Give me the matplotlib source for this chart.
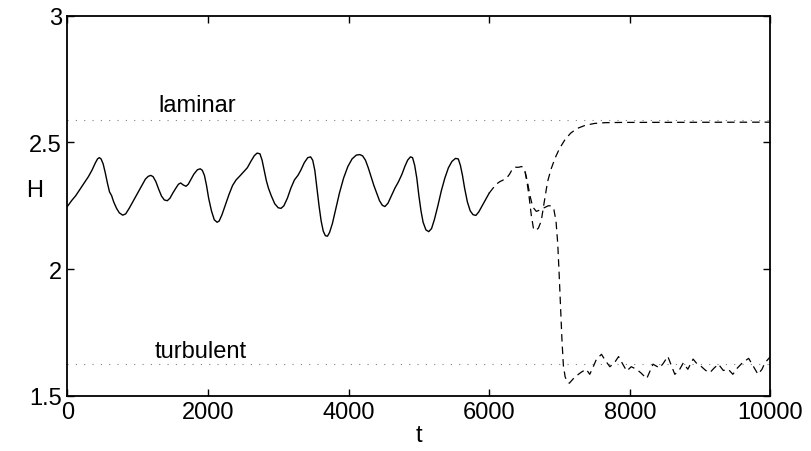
import matplotlib
matplotlib.use("Agg")
import matplotlib.pyplot as plt

plt.rcParams['font.family'] = ['Liberation Sans', 'DejaVu Sans']

# solid part of the run (t <= 6000)
t_solid = [0, 60, 120, 180, 240, 300, 350, 400, 430, 455, 480, 510, 540, 570, 600, 630,
           660, 700, 740, 788, 830, 880, 940, 1000, 1060, 1110, 1150, 1186, 1220, 1260,
           1300, 1340, 1380, 1422, 1460, 1500, 1540, 1580, 1612, 1650, 1688, 1720, 1760,
           1800, 1850, 1890, 1920, 1950, 1980, 2010, 2050, 2090, 2130, 2160, 2200, 2250,
           2300, 2350, 2400, 2455, 2510, 2560, 2610, 2660, 2700, 2740, 2770, 2800, 2830,
           2860, 2900, 2950, 3000, 3040, 3080, 3130, 3180, 3230, 3280, 3320, 3370, 3420,
           3460, 3490, 3520, 3550, 3580, 3610, 3640, 3670, 3700, 3730, 3770, 3820, 3870,
           3930, 3990, 4050, 4110, 4160, 4200, 4240, 4280, 4320, 4360, 4400, 4440, 4480,
           4517, 4560, 4610, 4660, 4710, 4760, 4800, 4840, 4880, 4910, 4940, 4970, 5000,
           5030, 5060, 5100, 5140, 5180, 5220, 5270, 5320, 5370, 5420, 5470, 5520, 5560,
           5590, 5620, 5650, 5690, 5730, 5770, 5810, 5850, 5900, 5950, 6000]
H_solid = [2.247, 2.27, 2.29, 2.315, 2.34, 2.365, 2.39, 2.42, 2.435, 2.440, 2.435, 2.415,
           2.38, 2.34, 2.305, 2.29, 2.265, 2.24, 2.222, 2.213, 2.218, 2.24, 2.27, 2.30,
           2.33, 2.355, 2.366, 2.370, 2.365, 2.345, 2.315, 2.288, 2.273, 2.270, 2.28, 2.30,
           2.318, 2.335, 2.340, 2.332, 2.327, 2.335, 2.355, 2.375, 2.392, 2.396, 2.390,
           2.37, 2.33, 2.28, 2.23, 2.195, 2.185, 2.19, 2.215, 2.255, 2.295, 2.33, 2.352,
           2.368, 2.385, 2.40, 2.425, 2.448, 2.458, 2.455, 2.43, 2.39, 2.35, 2.32, 2.29,
           2.258, 2.242, 2.240, 2.25, 2.28, 2.32, 2.352, 2.37, 2.39, 2.42, 2.44, 2.443,
           2.43, 2.39, 2.32, 2.25, 2.19, 2.15, 2.132, 2.130, 2.145, 2.18, 2.24, 2.30, 2.36,
           2.405, 2.435, 2.45, 2.452, 2.447, 2.43, 2.40, 2.365, 2.33, 2.30, 2.27, 2.252,
           2.247, 2.26, 2.29, 2.32, 2.345, 2.375, 2.405, 2.43, 2.443, 2.44, 2.41, 2.36,
           2.29, 2.23, 2.185, 2.155, 2.148, 2.16, 2.195, 2.25, 2.31, 2.36, 2.40, 2.425,
           2.437, 2.435, 2.41, 2.37, 2.32, 2.265, 2.23, 2.215, 2.212, 2.225, 2.25, 2.275,
           2.30]

# dashed continuation, common part before the split
t_common = [6000, 6050, 6100, 6150, 6200, 6250, 6290, 6330, 6370, 6420, 6460, 6490, 6510]
H_common = [2.30, 2.318, 2.335, 2.345, 2.352, 2.36, 2.375, 2.395, 2.402, 2.402, 2.405,
            2.40, 2.385]

# branch relaxing to the laminar state
t_lam = [6510, 6540, 6570, 6600, 6630, 6660, 6700, 6740, 6780, 6830, 6880, 6940, 7000,
         7080, 7160, 7250, 7370, 7500, 7650, 7900, 10000]
H_lam = [2.385, 2.34, 2.28, 2.21, 2.16, 2.152, 2.162, 2.19, 2.26, 2.345, 2.395, 2.44,
         2.476, 2.512, 2.537, 2.555, 2.568, 2.575, 2.578, 2.579, 2.58]

# branch going turbulent
t_turb = [6510, 6540, 6580, 6620, 6670, 6720, 6780, 6840, 6880, 6920, 6950, 6975, 6995,
          7015, 7035, 7055, 7080, 7110, 7140, 7220, 7313, 7380, 7430, 7480, 7526, 7597,
          7650, 7716, 7780, 7840, 7900, 7956, 8020, 8095, 8160, 8240, 8330, 8424, 8480,
          8540, 8590, 8640, 8700, 8760, 8825, 8900, 8960, 9020, 9080, 9140, 9200, 9260,
          9330, 9400, 9465, 9530, 9600, 9690, 9760, 9823, 9880, 9920, 10000]
H_turb = [2.385, 2.35, 2.29, 2.245, 2.228, 2.233, 2.242, 2.250, 2.250, 2.235, 2.19, 2.10,
          1.98, 1.85, 1.72, 1.62, 1.575, 1.555, 1.55, 1.575, 1.594, 1.605, 1.585, 1.615,
          1.645, 1.664, 1.64, 1.615, 1.63, 1.655, 1.625, 1.598, 1.615, 1.605, 1.59, 1.568,
          1.625, 1.61, 1.63, 1.656, 1.62, 1.585, 1.60, 1.63, 1.605, 1.645, 1.625, 1.615,
          1.60, 1.592, 1.61, 1.625, 1.60, 1.605, 1.585, 1.61, 1.63, 1.648, 1.615, 1.585,
          1.605, 1.63, 1.655]

H_laminar = 2.588
H_turbulent = 1.625

fig = plt.figure(figsize=(8.11, 4.52), dpi=100)
ax = fig.add_axes([0.083, 0.122, 0.867, 0.841])

# reference levels
ax.plot([0, 10000], [H_laminar, H_laminar], color='0.5', lw=0.8, linestyle=(0, (1, 6.5)))
ax.plot([0, 10000], [H_turbulent, H_turbulent], color='0.5', lw=0.8, linestyle=(0, (1, 6.5)))

ax.plot(t_solid, H_solid, color='k', lw=1.0)
dash = (0, (6, 4))
ax.plot(t_common, H_common, color='k', lw=0.9, linestyle=dash)
ax.plot(t_lam, H_lam, color='k', lw=0.9, linestyle=dash)
ax.plot(t_turb, H_turb, color='k', lw=0.9, linestyle=dash)

ax.text(1850, 2.603, 'laminar', ha='center', va='bottom', fontsize=17)
ax.text(1900, 1.633, 'turbulent', ha='center', va='bottom', fontsize=17)

ax.set_xlim(0, 10000)
ax.set_ylim(1.5, 3)
ax.set_xticks([0, 2000, 4000, 6000, 8000, 10000])
ax.set_yticks([1.5, 2, 2.5, 3])
ax.set_yticklabels(['1.5', '2', '2.5', '3'])
ax.tick_params(direction='in', top=True, right=True, length=5, width=1, labelsize=17, pad=4)
for s in ax.spines.values():
    s.set_linewidth(1.3)

ax.set_xlabel('t', fontsize=17, va='center')
ax.xaxis.set_label_coords(0.5, -0.103)
ax.set_ylabel('H', fontsize=17, rotation=0, ha='center', va='center')
ax.yaxis.set_label_coords(-0.046, 0.542)

fig.savefig('out.png', dpi=100)
